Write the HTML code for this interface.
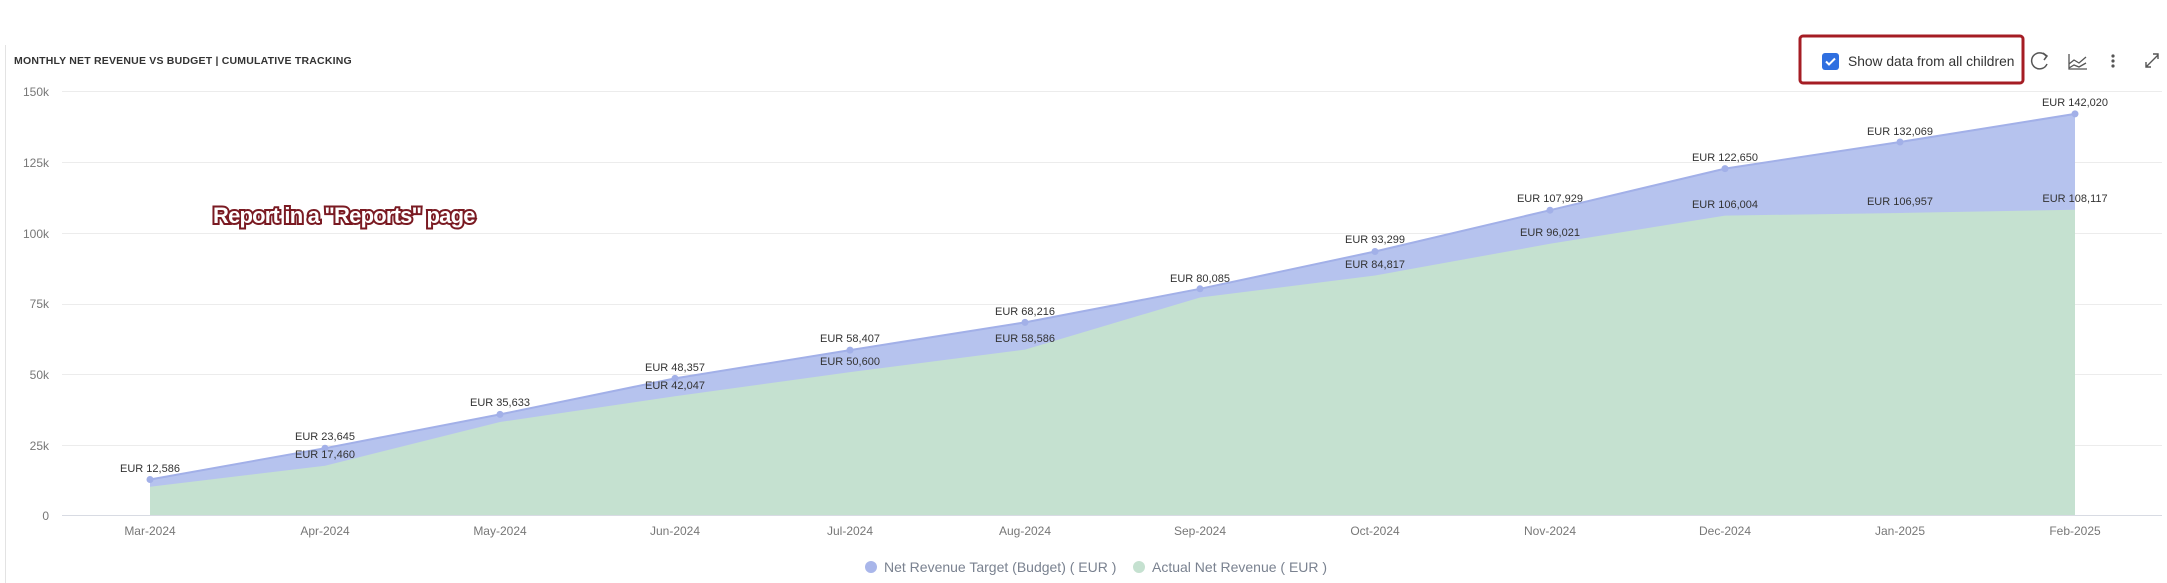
<!DOCTYPE html>
<html><head><meta charset="utf-8"><style>
body{margin:0;background:#fff;}
svg{display:block;font-family:"Liberation Sans",sans-serif;}
</style></head><body>
<svg width="2167" height="583" viewBox="0 0 2167 583">
<line x1="5.5" y1="45" x2="5.5" y2="583" stroke="#e3e3e3"/>
<text x="14" y="64" font-size="10.5" fill="#333" font-weight="bold" letter-spacing="0.2">MONTHLY NET REVENUE VS BUDGET | CUMULATIVE TRACKING</text>
<g stroke="#ececec">
<line x1="62" y1="91.5" x2="2162" y2="91.5"/><line x1="62" y1="162.5" x2="2162" y2="162.5"/>
<line x1="62" y1="233.5" x2="2162" y2="233.5"/><line x1="62" y1="304.5" x2="2162" y2="304.5"/>
<line x1="62" y1="374.5" x2="2162" y2="374.5"/><line x1="62" y1="445.5" x2="2162" y2="445.5"/>
</g>
<g font-size="12" fill="#777" text-anchor="end">
<text x="49" y="96">150k</text><text x="49" y="167">125k</text><text x="49" y="238">100k</text>
<text x="49" y="308">75k</text><text x="49" y="379">50k</text><text x="49" y="450">25k</text><text x="49" y="520">0</text>
</g>
<polygon fill="#b6c3ee" points="150,479.5 325,448.2 500,414.4 675,378.4 850,350.1 1025,322.4 1200,288.8 1375,251.5 1550,210.2 1725,168.6 1900,142.0 2075,113.9 2075,515 150,515"/>
<polyline fill="none" stroke="#a2b0e8" stroke-width="2" points="150,479.5 325,448.2 500,414.4 675,378.4 850,350.1 1025,322.4 1200,288.8 1375,251.5 1550,210.2 1725,168.6 1900,142.0 2075,113.9"/>
<polygon fill="#c5e1d0" points="150,486.8 325,465.7 500,422 675,396.3 850,372.1 1025,349.6 1200,297.5 1375,275.5 1550,243.8 1725,215.6 1900,213 2075,209.7 2075,515 150,515"/>
<line x1="62" y1="515.5" x2="2162" y2="515.5" stroke="#d8dbe3"/>
<g fill="#a2b0e8">
<circle cx="150" cy="479.5" r="3.5"/><circle cx="325" cy="448.2" r="3.5"/><circle cx="500" cy="414.4" r="3.5"/><circle cx="675" cy="378.4" r="3.5"/><circle cx="850" cy="350.1" r="3.5"/><circle cx="1025" cy="322.4" r="3.5"/><circle cx="1200" cy="288.8" r="3.5"/><circle cx="1375" cy="251.5" r="3.5"/><circle cx="1550" cy="210.2" r="3.5"/><circle cx="1725" cy="168.6" r="3.5"/><circle cx="1900" cy="142" r="3.5"/><circle cx="2075" cy="113.9" r="3.5"/>
</g>
<g font-size="11" fill="#333" text-anchor="middle">
<text x="150" y="472">EUR 12,586</text><text x="325" y="440">EUR 23,645</text><text x="500" y="406">EUR 35,633</text>
<text x="675" y="371">EUR 48,357</text><text x="850" y="342">EUR 58,407</text><text x="1025" y="315">EUR 68,216</text>
<text x="1200" y="282">EUR 80,085</text><text x="1375" y="243">EUR 93,299</text><text x="1550" y="202">EUR 107,929</text>
<text x="1725" y="161">EUR 122,650</text><text x="1900" y="135">EUR 132,069</text><text x="2075" y="106">EUR 142,020</text>
<text x="325" y="458">EUR 17,460</text><text x="675" y="389">EUR 42,047</text><text x="850" y="365">EUR 50,600</text>
<text x="1025" y="342">EUR 58,586</text><text x="1375" y="268">EUR 84,817</text><text x="1550" y="236">EUR 96,021</text>
<text x="1725" y="208">EUR 106,004</text><text x="1900" y="205">EUR 106,957</text><text x="2075" y="202">EUR 108,117</text>
</g>
<g font-size="12" fill="#777" text-anchor="middle">
<text x="150" y="535">Mar-2024</text><text x="325" y="535">Apr-2024</text><text x="500" y="535">May-2024</text><text x="675" y="535">Jun-2024</text>
<text x="850" y="535">Jul-2024</text><text x="1025" y="535">Aug-2024</text><text x="1200" y="535">Sep-2024</text><text x="1375" y="535">Oct-2024</text>
<text x="1550" y="535">Nov-2024</text><text x="1725" y="535">Dec-2024</text><text x="1900" y="535">Jan-2025</text><text x="2075" y="535">Feb-2025</text>
</g>
<circle cx="871" cy="567" r="6" fill="#a9b6ea"/>
<text x="884" y="572" font-size="14" fill="#7a8290">Net Revenue Target (Budget) ( EUR )</text>
<circle cx="1139" cy="567" r="6" fill="#c5e1d0"/>
<text x="1152" y="572" font-size="14" fill="#7a8290">Actual Net Revenue ( EUR )</text>
<text x="213" y="223" font-size="22" font-weight="bold" fill="#fff" stroke="#7a1a22" stroke-width="4" paint-order="stroke" letter-spacing="-0.8">Report in a "Reports" page</text>
<rect x="1800" y="36" width="223" height="47" rx="3" fill="none" stroke="#a51d24" stroke-width="3"/>
<rect x="1822" y="53" width="17" height="17" rx="3" fill="#2f6fe0"/>
<path d="M1826 61.5 l3 3 l6 -6" stroke="#fff" stroke-width="2" fill="none"/>
<text x="1848" y="66" font-size="13.8" fill="#333">Show data from all children</text>
<path d="M2046 56 A8 8 0 1 0 2047 64" fill="none" stroke="#555" stroke-width="1.5"/>
<path d="M2043 53 l4 3 l-3 4" fill="none" stroke="#555" stroke-width="1.5"/>
<path d="M2069 54 v15 h18 M2069 64 l5-4 l5 3 l7-6 M2069 68 l5-3 l5 2 l7-4" fill="none" stroke="#555" stroke-width="1.3"/>
<g fill="#555"><circle cx="2113" cy="56" r="1.6"/><circle cx="2113" cy="61" r="1.6"/><circle cx="2113" cy="66" r="1.6"/></g>
<path d="M2146 67 l6-6 M2146 62 v5 h5 M2158 55 l-6 6 M2153 54 h5 v5" fill="none" stroke="#555" stroke-width="1.4"/>
</svg>
</body></html>
